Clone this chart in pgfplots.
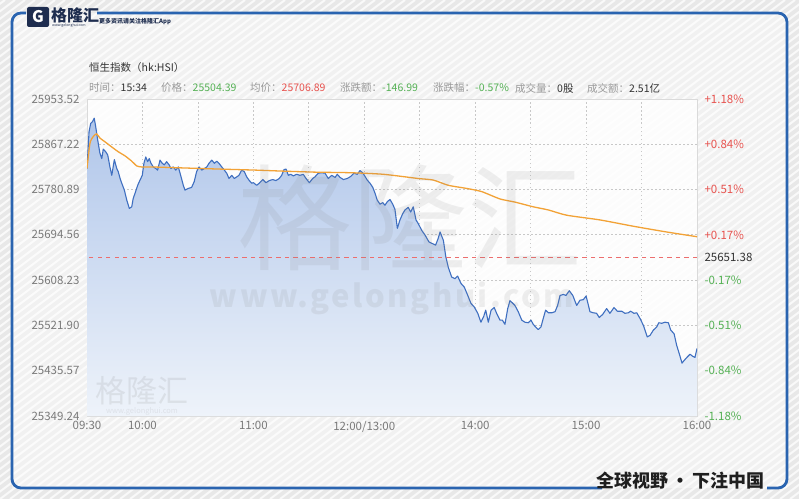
\documentclass[border=0pt]{standalone}
\usepackage{pgfplots}
\pgfplotsset{compat=1.18}
\usepackage{pgfplotstable}
\usepackage{fontspec}
\setmainfont{Noto Sans CJK SC}
\definecolor{bgc}{HTML}{E8E8E8}
\definecolor{framec}{HTML}{2A64B0}
\definecolor{navy}{HTML}{1E2D4F}
\definecolor{gridc}{HTML}{C8C8C8}
\definecolor{borderc}{HTML}{DADADA}
\definecolor{tickc}{HTML}{7A7A7A}
\definecolor{lblc}{HTML}{9A9A9A}
\definecolor{darkc}{HTML}{333333}
\definecolor{upc}{HTML}{E8534F}
\definecolor{dnc}{HTML}{55B155}
\definecolor{bluec}{HTML}{3F6FC0}
\definecolor{orangec}{HTML}{F2A236}
\definecolor{fillt}{HTML}{B0C6EA}
\definecolor{fillb}{HTML}{EEF3FA}
\definecolor{prevclose}{RGB}{236,110,110}

\pgfplotstableread{
t v
0 25821
1.1 25891
2.0 25907
2.9 25910
3.9 25917
4.7 25901
5.8 25875
7.0 25850
8.0 25840
8.8 25858
10.1 25853
11.2 25847
12.4 25824
13.4 25808
14.8 25838
16.1 25821
16.9 25815
17.9 25802
18.8 25793
20.2 25780
21.5 25761
22.9 25745
24.2 25748
25.0 25764
26.3 25777
27.4 25789
28.7 25799
29.9 25808
30.8 25831
31.8 25843
32.8 25834
33.7 25840
34.6 25831
35.9 25824
37.2 25821
38.2 25818
39.5 25837
40.7 25831
41.8 25828
43.1 25834
44.4 25828
45.4 25821
46.7 25824
48.0 25818
49.4 25824
50.9 25805
52.1 25789
53.0 25780
54.8 25783
56.6 25785
58.0 25796
59.3 25815
60.6 25824
62.1 25818
63.5 25821
64.8 25824
66.0 25831
67.5 25837
68.9 25831
70.2 25835
71.4 25831
72.9 25824
74.3 25818
75.6 25812
76.8 25802
78.3 25808
79.7 25802
81.0 25805
82.2 25808
83.7 25818
85.1 25815
86.4 25805
87.6 25799
89.1 25793
90.0 25794
91.8 25789
93.2 25793
95.1 25800
96.8 25794
98.6 25798
100.5 25800
102.2 25798
104.0 25802
105.3 25808
106.6 25819
107.7 25820
108.9 25808
110.2 25810
111.6 25807
113.4 25810
115.2 25808
117.0 25810
118.5 25802
120.3 25794
122.1 25802
123.3 25805
125.1 25812
127.0 25813
128.8 25812
130.5 25802
132.4 25808
134.2 25804
135.4 25810
136.9 25804
138.7 25800
140.8 25802
142.7 25806
144.4 25812
146.2 25810
147.7 25817
149.1 25813
150.4 25806
151.6 25799
153.1 25793
154.6 25785
155.8 25774
157.0 25761
158.5 25753
160.0 25756
161.2 25751
162.5 25758
163.9 25762
165.4 25753
166.6 25743
167.9 25707
169.3 25723
170.8 25735
172.0 25742
173.8 25747
175.1 25738
176.5 25748
178.0 25723
179.2 25716
181.1 25703
182.9 25694
185.0 25681
186.8 25678
188.6 25675
190.0 25688
191.0 25700
192.8 25684
194.1 25653
195.5 25632
197.3 25614
199.1 25611
200.5 25616
202.3 25602
204.1 25595
206.0 25579
207.7 25564
209.5 25557
211.4 25545
213.1 25528
214.6 25539
215.7 25551
217.1 25528
218.6 25551
220.3 25556
221.6 25545
223.4 25532
224.7 25532
226.1 25524
227.6 25554
228.8 25569
230.1 25565
231.5 25560
233.3 25548
235.2 25532
236.9 25528
238.7 25527
240.2 25532
241.4 25524
242.7 25519
244.1 25514
245.6 25519
246.8 25535
248.1 25551
249.6 25546
251.4 25546
253.2 25548
254.6 25560
255.9 25579
257.7 25581
259.1 25579
260.9 25588
262.8 25579
264.9 25560
266.7 25570
268.5 25571
270.0 25578
272.1 25548
273.9 25546
275.7 25545
277.1 25537
279.0 25543
281.1 25554
282.9 25545
285.1 25556
286.9 25549
289.3 25549
291.0 25545
292.8 25546
294.1 25549
295.9 25545
297.4 25546
299.2 25535
301.0 25522
303.1 25500
304.6 25503
306.4 25513
308.2 25519
309.3 25527
310.9 25526
312.7 25528
314.5 25527
315.8 25513
317.6 25506
319.0 25484
320.4 25468
321.9 25450
323.0 25455
324.8 25462
326.2 25467
327.7 25463
328.9 25461
330.0 25478
}\pricedata

\pgfplotstableread{
t v
0 25821
1.6 25869
3.4 25882
5.2 25887
7.0 25879
9.7 25872
13.4 25862
16.9 25853
20.6 25845
24.2 25835
26.9 25826
29.6 25824
35.0 25824
53.0 25822
71.0 25820
90.9 25818
106.2 25816
124.3 25814
142.3 25813
160.3 25810
179.1 25802
187.3 25799
195.5 25789
205.4 25783
213.5 25777
223.4 25763
231.5 25757
241.4 25748
249.6 25742
259.5 25732
277.5 25723
295.5 25711
313.6 25700
330 25691
}\avgdata

% previous close 25651.38, drawn as a row of short dashes
\pgfplotstableread{
t v
2.3 25651.38
6.9 25651.38
11.5 25651.38
16.1 25651.38
20.7 25651.38
25.3 25651.38
29.9 25651.38
34.5 25651.38
39.1 25651.38
43.7 25651.38
48.3 25651.38
52.9 25651.38
57.5 25651.38
62.1 25651.38
66.7 25651.38
71.3 25651.38
75.9 25651.38
80.5 25651.38
85.1 25651.38
89.7 25651.38
94.3 25651.38
98.9 25651.38
103.5 25651.38
108.1 25651.38
112.7 25651.38
117.3 25651.38
121.9 25651.38
126.5 25651.38
131.1 25651.38
135.7 25651.38
140.3 25651.38
144.9 25651.38
149.5 25651.38
154.1 25651.38
158.7 25651.38
163.3 25651.38
167.9 25651.38
172.5 25651.38
177.1 25651.38
181.7 25651.38
186.3 25651.38
190.9 25651.38
195.5 25651.38
200.1 25651.38
204.7 25651.38
209.3 25651.38
213.9 25651.38
218.5 25651.38
223.1 25651.38
227.7 25651.38
232.3 25651.38
236.9 25651.38
241.5 25651.38
246.1 25651.38
250.7 25651.38
255.3 25651.38
259.9 25651.38
264.5 25651.38
269.1 25651.38
273.7 25651.38
278.3 25651.38
282.9 25651.38
287.5 25651.38
292.1 25651.38
296.7 25651.38
301.3 25651.38
305.9 25651.38
310.5 25651.38
315.1 25651.38
319.7 25651.38
324.3 25651.38
328.9 25651.38
}\prevdata

\begin{document}
\begin{tikzpicture}
\useasboundingbox (0,0) rectangle (799pt,499pt);
% background
\fill[bgc] (0,0) rectangle (799pt,499pt);
\begin{scope}
\clip (0,0) rectangle (799pt,499pt);
\foreach \i in {-700,-690,...,800} {
  \draw[white, line width=2pt, opacity=0.75] ({\i*1pt},0) -- ++(665pt,499pt);
}
\end{scope}
\fill[white, opacity=0.4] (12pt,11pt) rectangle (787pt,486pt);

% frame
\draw[framec, line width=2.8pt, rounded corners=9pt] (26pt,486pt) -- (12pt,486pt) -- (12pt,11pt) -- (602pt,11pt);
\draw[framec, line width=2.8pt, rounded corners=9pt] (767pt,11pt) -- (787pt,11pt) -- (787pt,486pt) -- (97pt,486pt);

% logo
\fill[navy, rounded corners=2pt] (27pt,472pt) rectangle (49pt,492pt);
\node[text=white, font=\bfseries\fontsize{16}{16}\selectfont] at (38pt,482pt) {G};
\node[anchor=west, text=navy, inner sep=0pt, font=\bfseries\fontsize{16}{16}\selectfont] at (51pt,484pt) {格隆汇};
\node[anchor=west, text=navy, inner sep=0pt, font=\fontsize{3.5}{4}\selectfont] at (52pt,473pt) {www.gelonghui.com};
\node[anchor=west, text=navy, inner sep=0pt, font=\bfseries\fontsize{6}{6}\selectfont] at (99pt,477pt) {更多资讯请关注格隆汇App};

% slogan
\node[anchor=east, inner sep=0pt, text=black!88, font=\bfseries\fontsize{18}{18}\selectfont] at (765pt,18pt) {全球视野\hspace{3pt}·\hspace{3pt}下注中国};

% header
\node[anchor=west, inner sep=0pt, text=darkc, font=\fontsize{10.5}{11}\selectfont] at (89pt,431pt) {恒生指数（hk:HSI）};
\begin{scope}[every node/.style={anchor=west, inner sep=0pt, font=\fontsize{10.5}{11}\selectfont}]
\node at (89pt,411pt) {\textcolor{lblc}{时间：}\textcolor{darkc}{15:34}};
\node at (161pt,411pt) {\textcolor{lblc}{价格：}\textcolor{dnc}{25504.39}};
\node at (250pt,411pt) {\textcolor{lblc}{均价：}\textcolor{upc}{25706.89}};
\node at (340pt,411pt) {\textcolor{lblc}{涨跌额：}\textcolor{dnc}{-146.99}};
\node at (433pt,411pt) {\textcolor{lblc}{涨跌幅：}\textcolor{dnc}{-0.57\%}};
\node at (515pt,411pt) {\textcolor{lblc}{成交量：}\textcolor{darkc}{0股}};
\node at (587pt,411pt) {\textcolor{lblc}{成交额：}\textcolor{darkc}{2.51亿}};
\end{scope}

\begin{axis}[
  at={(87pt,83pt)}, anchor=south west,
  scale only axis, width=610pt, height=317pt,
  xmin=0, xmax=330, ymin=25349.24, ymax=25953.52,
  scaled y ticks=false, scaled x ticks=false,
  xtick={0,30,...,330},
  xticklabels={09:30,10:00,,11:00,,12:00/13:00,,14:00,,15:00,,16:00},
  ytick={25349.24,25435.57,25521.90,25608.23,25694.56,25780.89,25867.22,25953.52},
  yticklabels={25349.24,25435.57,25521.90,25608.23,25694.56,25780.89,25867.22,25953.52},
  major tick length=0pt,
  xmajorgrids, ymajorgrids,
  major grid style={draw=gridc, line width=0.7pt, dash pattern=on 1.5pt off 2.5pt},
  axis line style={draw=borderc, line width=0.7pt},
  ticklabel style={font=\fontsize{11.5}{12}\selectfont, text=tickc},
  xticklabel style={yshift=-2pt},
  yticklabel style={xshift=-4pt},
  axis background/.style={fill=white, fill opacity=0.8},
]
\addplot[draw=none, top color=fillt, bottom color=fillb] table[x=t,y=v] {\pricedata} -- (axis cs:330,25349.24) -- (axis cs:0,25349.24) -- cycle;
\addplot[only marks, mark=-, mark size=2.2pt, color=prevclose, mark options={solid, line width=1.2pt, draw=prevclose}] table[x=t,y=v] {\prevdata};
\addplot[color=bluec, line width=1.1pt, line join=round] table[x=t,y=v] {\pricedata};
\addplot[color=orangec, line width=1.3pt, smooth, tension=0.4] table[x=t,y=v] {\avgdata};
\end{axis}

\begin{axis}[
  at={(87pt,83pt)}, anchor=south west,
  scale only axis, width=610pt, height=317pt,
  xmin=0, xmax=330, ymin=25349.24, ymax=25953.52,
  scaled y ticks=false, scaled x ticks=false,
  axis x line=none, axis y line*=right,
  y axis line style={draw=none},
  ytick={25349.24,25435.57,25521.90,25608.23,25651.38,25694.56,25780.89,25867.22,25953.52},
  yticklabels={\textcolor{dnc}{-1.18\%},\textcolor{dnc}{-0.84\%},\textcolor{dnc}{-0.51\%},\textcolor{dnc}{-0.17\%},\textcolor{darkc}{25651.38},\textcolor{upc}{+0.17\%},\textcolor{upc}{+0.51\%},\textcolor{upc}{+0.84\%},\textcolor{upc}{+1.18\%}},
  major tick length=0pt,
  ticklabel style={font=\fontsize{11.5}{12}\selectfont},
  yticklabel style={xshift=4pt},
]
\end{axis}

% watermarks
\node[text=gray, opacity=0.12, font=\fontsize{115}{115}\selectfont] at (410pt,281pt) {格隆汇};
\node[text=gray, opacity=0.12, font=\bfseries\fontsize{31}{31}\selectfont\addfontfeature{LetterSpace=8}] at (392pt,201pt) {www.gelonghui.com};
\node[text=gray, opacity=0.15, font=\fontsize{31}{31}\selectfont] at (142pt,108pt) {格隆汇};
\node[text=gray, opacity=0.15, font=\fontsize{7.5}{8}\selectfont] at (142pt,88pt) {www.gelonghui.com};
\end{tikzpicture}
\end{document}
